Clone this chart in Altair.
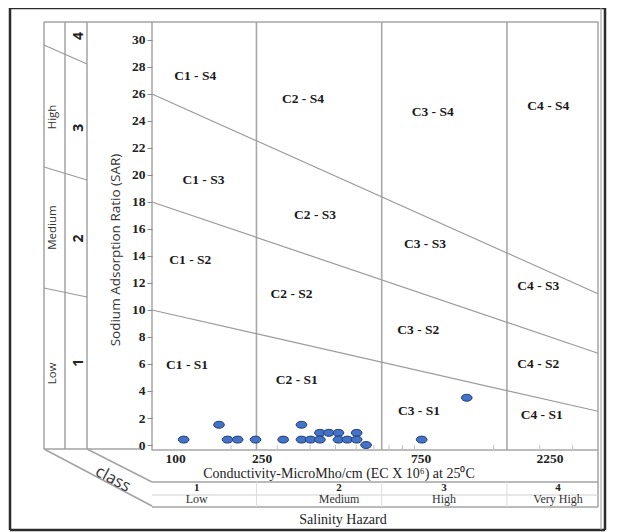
import altair as alt
import pandas as pd

# ---------------- data ----------------
sample_ec = [132, 180, 194, 212, 248, 316, 371, 371, 402, 436, 436, 472, 513, 513, 555, 602, 602, 654, 1065, 1581]
sample_sar = [0.4, 1.5, 0.4, 0.4, 0.4, 0.4, 1.5, 0.4, 0.4, 0.9, 0.4, 0.9, 0.9, 0.4, 0.4, 0.9, 0.4, 0.0, 0.4, 3.5]

zone_text = ["C1 - S4", "C1 - S3", "C1 - S2", "C1 - S1",
             "C2 - S4", "C2 - S3", "C2 - S2", "C2 - S1",
             "C3 - S4", "C3 - S3", "C3 - S2", "C3 - S1",
             "C4 - S4", "C4 - S3", "C4 - S2", "C4 - S1"]
zone_ec = [146, 157, 140, 136, 376, 418, 340, 356, 1173, 1096, 1034, 1040, 3234, 2962, 2962, 3051]
zone_sar = [27.3, 19.6, 13.7, 5.9, 25.6, 17.0, 11.2, 4.8, 24.7, 14.9, 8.5, 2.5, 25.1, 11.8, 6.0, 2.2]

class_bounds = [250, 750, 2250]

sline_id = ["S1/S2", "S1/S2", "S2/S3", "S2/S3", "S3/S4", "S3/S4"]
sline_ec = [100, 5000, 100, 5000, 100, 5000]
sline_sar = [10, 2.5, 18, 6.8, 26, 11.2]

y_ticks = list(range(0, 31, 2))
minor_ec = [200, 300, 400, 500, 600, 700, 800, 900, 1000, 2000, 3000, 4000]

x_tick_text = ["100", "250", "750", "2250"]
x_tick_ec = [123, 263, 1059, 3282]

hazard_num = ["1", "2", "3", "4"]
hazard_name = ["Low", "Medium", "High", "Very High"]
hazard_ec = [148, 516, 1295, 3521]

sodium_num = ["4", "3", "2", "1"]
sodium_num_sar = [30.3, 23.5, 15.3, 6.1]
sodium_name = ["High", "Medium", "Low"]
sodium_name_sar = [24.3, 16.1, 5.3]

# ---------------- layout ----------------
W, H = 446, 428
OX, OY = 152, 22          # page position of the plot area's top-left corner
GRAY = "#A3A3A3"
SERIF = "Liberation Serif"
SANS = "Open Sans"

xs = alt.Scale(type="log", domain=[100, 5000], nice=False)
ys = alt.Scale(domain=[-0.37, 31.33], nice=False, zero=False)
yaxis = alt.Axis(values=y_ticks, title=None, domain=False, grid=False,
                 labelFont=SERIF, labelFontWeight="bold", labelFontSize=13.5,
                 labelColor="#222222", tickColor="#8a8a8a", tickSize=5,
                 labelPadding=2)


def X(f="ec"):
    return alt.X(f"{f}:Q", scale=xs, axis=None)


def Y(f="sar"):
    return alt.Y(f"{f}:Q", scale=ys, axis=yaxis)


one = pd.DataFrame({"k": [0]})


def seg(x1, y1, x2, y2, color=GRAY, w=1.5):
    return alt.Chart(one).mark_rule(color=color, strokeWidth=w).encode(
        x=alt.value(x1 - OX), y=alt.value(y1 - OY),
        x2=alt.value(x2 - OX), y2=alt.value(y2 - OY))


def lab(text, x, y, size, font=SERIF, weight="normal", angle=0, color="#222222"):
    return alt.Chart(one).mark_text(text=text, font=font, fontSize=size, fontWeight=weight,
                                    angle=angle, align="center", baseline="middle",
                                    color=color).encode(
        x=alt.value(x - OX), y=alt.value(y - OY))


layers = []

# outer frame
BORDER = "#2b2b2b"
layers += [seg(10, 8, 605, 8, BORDER, 2.5), seg(10, 530, 605, 530, BORDER, 2.5),
           seg(10, 8, 10, 530, BORDER, 2.5), seg(605, 8, 605, 530, BORDER, 2.5),
           seg(601, 8, 601, 530, "#9a9a9a", 1)]
# inner frame / pseudo-3D panels
layers += [seg(44, 22, 152, 22), seg(598, 450, 598, 507),
           seg(44, 22, 44, 449), seg(65, 22, 65, 449), seg(87, 22, 87, 449),
           seg(44, 449, 140, 449),
           seg(44, 449, 152, 506), seg(87, 449, 152, 482),
           seg(152, 482, 598, 482), seg(152, 495, 598, 495, "#cfcfcf", 1),
           seg(152, 507, 598, 507),
           seg(44, 45, 87, 64, "#9a9a9a", 1.2), seg(44, 167, 87, 180, "#9a9a9a", 1.2),
           seg(44, 288, 87, 297, "#9a9a9a", 1.2)]

# class boundaries (salinity)
cb = pd.DataFrame({"ec": class_bounds})
layers.append(alt.Chart(cb).mark_rule(color="#a8a8a8", strokeWidth=1.6).encode(x=X()))
layers.append(alt.Chart(cb).mark_rule(color="#dddddd", strokeWidth=1).encode(
    x=X(), y=alt.value(482 - OY), y2=alt.value(507 - OY)))

# minor log ticks on the x axis
mt = pd.DataFrame({"ec": minor_ec})
layers.append(alt.Chart(mt).mark_rule(color="#c4c4c4", strokeWidth=1).encode(
    x=X(), y=alt.value(H - 5), y2=alt.value(H)))

# sodium hazard boundary lines
sl = pd.DataFrame({"id": sline_id, "ec": sline_ec, "sar": sline_sar})
layers.append(alt.Chart(sl).mark_line(color="#9a9a9a", strokeWidth=1.2).encode(
    x=X(), y=Y(), detail="id:N"))

# zone labels
zl = pd.DataFrame({"t": zone_text, "ec": zone_ec, "sar": zone_sar})
layers.append(alt.Chart(zl).mark_text(font=SERIF, fontWeight="bold", fontSize=13.5,
                                      color="#1a1a1a").encode(x=X(), y=Y(), text="t:N"))

# samples
ellipse = "M-1,0 A1,0.65 0 1,0 1,0 A1,0.65 0 1,0 -1,0 Z"
pts = pd.DataFrame({"ec": sample_ec, "sar": sample_sar})
layers.append(alt.Chart(pts).mark_point(shape=ellipse, size=115, filled=True, fill="#4472C4",
                                        stroke="#1F3F7A", strokeWidth=1, opacity=1).encode(
    x=X(), y=Y()))

# x tick labels and salinity hazard classes
xt = pd.DataFrame({"t": x_tick_text, "ec": x_tick_ec})
layers.append(alt.Chart(xt).mark_text(font=SERIF, fontWeight="bold", fontSize=13.5,
                                      color="#222222").encode(
    x=X(), y=alt.value(459 - OY), text="t:N"))
hz = pd.DataFrame({"n": hazard_num, "t": hazard_name, "ec": hazard_ec})
layers.append(alt.Chart(hz).mark_text(font=SERIF, fontWeight="bold", fontSize=11,
                                      color="#222222").encode(
    x=X(), y=alt.value(488 - OY), text="n:N"))
layers.append(alt.Chart(hz).mark_text(font=SERIF, fontSize=12, color="#333333").encode(
    x=X(), y=alt.value(499 - OY), text="t:N"))

# sodium hazard classes in the left panel
sn = pd.DataFrame({"t": sodium_num, "sar": sodium_num_sar})
layers.append(alt.Chart(sn).mark_text(font=SANS, fontWeight="bold", fontSize=14, angle=270,
                                      color="#222222").encode(
    x=alt.value(79 - OX), y=Y(), text="t:N"))
snn = pd.DataFrame({"t": sodium_name, "sar": sodium_name_sar})
layers.append(alt.Chart(snn).mark_text(font=SANS, fontSize=11.5, angle=270,
                                       color="#333333").encode(
    x=alt.value(53 - OX), y=Y(), text="t:N"))

# titles
layers += [
    lab("Sodium Adsorption Ratio (SAR)", 116, 250, 13.5, font=SANS, angle=270, color="#333333"),
    lab("Conductivity-MicroMho/cm (EC X 10\u2076) at 25\u2070C", 339, 474, 14),
    lab("Salinity Hazard", 343, 520, 14),
    lab("class", 113, 479, 16.5, font=SANS, angle=28, color="#333333"),
]

chart = alt.layer(*layers).properties(
    width=W, height=H,
    padding={"left": OX - 8, "top": OY - 8, "right": 17, "bottom": 524 - (OY - 8) - H},
    autosize=alt.AutoSizeParams(type="none"),
    background="white",
).configure_view(stroke="#A6A6A6", strokeWidth=1.5)

chart.save("out.html", embed_options={"renderer": "svg", "actions": False})
